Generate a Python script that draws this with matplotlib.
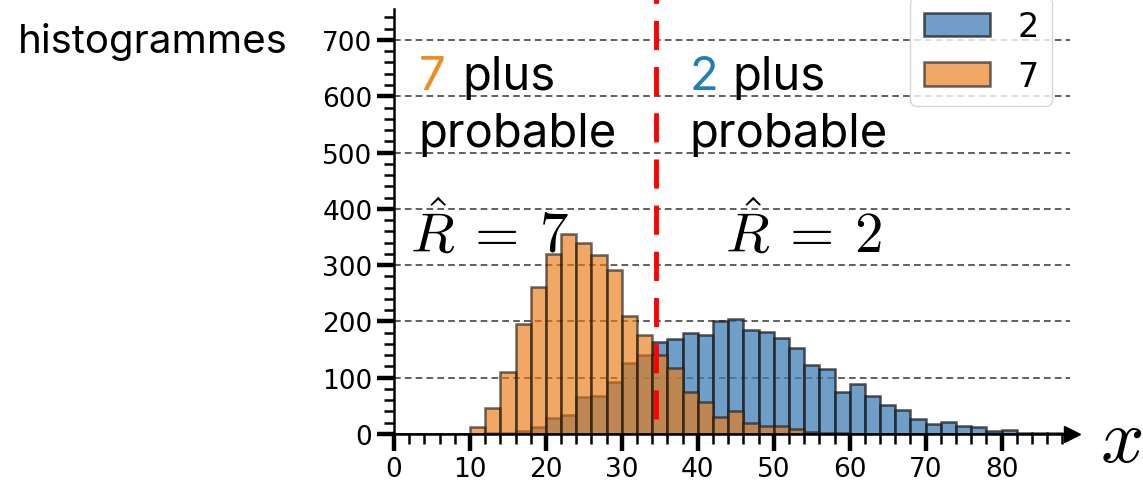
import numpy as np
import matplotlib
matplotlib.use('Agg')
import matplotlib.pyplot as plt
from matplotlib.ticker import MultipleLocator

# histogram counts, bins of width 2 starting at 0
bin_edges = np.arange(0, 90, 2)
counts_2 = [0, 0, 0, 0, 0, 0, 1, 2, 5, 12,
            28, 33, 65, 68, 92, 127, 140, 163, 169, 179,
            176, 201, 204, 184, 181, 171, 152, 123, 115, 75,
            88, 68, 52, 43, 27, 17, 21, 14, 12, 5,
            7, 2, 1, 1, 0]
counts_7 = [0, 0, 0, 0, 0, 12, 46, 110, 195, 261,
            319, 355, 340, 318, 291, 210, 175, 140, 118, 74,
            57, 31, 41, 20, 15, 15, 8, 4, 2, 1,
            0, 0, 0, 0, 0, 0, 0, 0, 0, 0,
            0, 0, 0, 0, 0]
labels = ['2', '7']
threshold = 34.5

plt.rcParams['font.family'] = ['DejaVu Sans']
plt.rcParams['mathtext.fontset'] = 'cm'
txt_font = ['Inter', 'DejaVu Sans']

fig = plt.figure(figsize=(11.43, 4.81), dpi=100)
ax = fig.add_axes([394 / 1143, 1 - 435 / 481, (1070 - 394) / 1143, 425 / 481])

ax.bar(bin_edges, counts_2, width=2, align='edge', color='#3f7fb8', alpha=0.75,
       edgecolor='#1a1a1a', linewidth=1.8, label=labels[0], zorder=2)
ax.bar(bin_edges, counts_7, width=2, align='edge', color='#ea7a12', alpha=0.65,
       edgecolor='#1a1a1a', linewidth=1.8, label=labels[1], zorder=2)

ax.set_xlim(0, 89)
ax.set_ylim(0, 755)
ax.xaxis.set_major_locator(MultipleLocator(10))
ax.xaxis.set_minor_locator(MultipleLocator(2))
ax.yaxis.set_major_locator(MultipleLocator(100))
ax.yaxis.set_minor_locator(MultipleLocator(20))
ax.grid(axis='y', linestyle=(0, (4, 2.5)), color='#444444', linewidth=1.2, zorder=1)
ax.set_axisbelow(True)

for s in ['top', 'right']:
    ax.spines[s].set_visible(False)
ax.spines['left'].set_linewidth(1.8)
ax.spines['bottom'].set_linewidth(1.8)
ax.tick_params(axis='both', which='major', length=12, width=3.2, labelsize=19)
ax.tick_params(axis='both', which='minor', length=7, width=1.8)
ax.plot(89.3, 0, marker='>', color='black', markersize=11, clip_on=False, zorder=5)

# decision threshold
ax.plot([threshold, threshold], [27, 800], color='red', linewidth=3.5,
        linestyle=(0, (6, 3.5)), clip_on=False, zorder=4)

ax.text(3.2, 613, '7', color='#f28a1e', fontsize=34, family=txt_font)
ax.text(9.0, 613, 'plus', color='black', fontsize=34, family=txt_font)
ax.text(3.2, 512, 'probable', color='black', fontsize=34, family=txt_font)
ax.text(38.9, 613, '2', color='#1f80b4', fontsize=34, family=txt_font)
ax.text(44.6, 613, 'plus', color='black', fontsize=34, family=txt_font)
ax.text(38.9, 512, 'probable', color='black', fontsize=34, family=txt_font)

ax.text(2.1, 326, r'$\hat{R}\:=\:7$', fontsize=41, zorder=1.5)
ax.text(43.6, 326, r'$\hat{R}\:=\:2$', fontsize=41, zorder=1.5)

ax.legend(loc='lower right', bbox_to_anchor=(0.973, (435 - 107) / 425),
          borderaxespad=0, fontsize=24)

fig.text(18 / 1143, 1 - 53 / 481, 'histogrammes', fontsize=29, family=txt_font)
fig.text(1100 / 1143, 1 - 462 / 481, r'$x$', fontsize=55)

fig.savefig('out.png', dpi=100)
